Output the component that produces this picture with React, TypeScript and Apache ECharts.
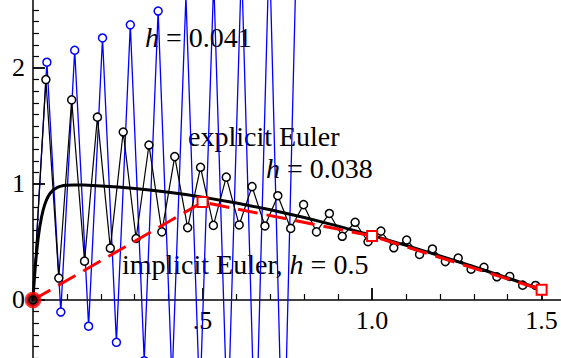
import React, { useEffect, useRef } from 'react';
import * as echarts from 'echarts';

// explicit Euler, h = 0.041 (blue)
const blueT = [0, 0.041, 0.082, 0.123, 0.164, 0.205, 0.246, 0.287, 0.328, 0.369, 0.41, 0.451, 0.492, 0.533, 0.574, 0.615, 0.656, 0.697, 0.738, 0.779];
const blueY = [0, 2.05, -0.104, 2.153, -0.226, 2.259, -0.365, 2.372, -0.524, 2.491, -0.704, 2.619, -0.905, 2.757, -1.13, 2.907, -1.379, 3.072, -1.654, 3.253];

// explicit Euler, h = 0.038 (black)
const blackT = [0, 0.038, 0.076, 0.114, 0.152, 0.19, 0.228, 0.266, 0.304, 0.342, 0.38, 0.418, 0.456, 0.494, 0.532, 0.57, 0.608, 0.646, 0.684, 0.722, 0.76, 0.798, 0.836, 0.874, 0.912, 0.95, 0.988, 1.026, 1.064, 1.102, 1.14, 1.178, 1.216, 1.254, 1.292, 1.33, 1.368, 1.406, 1.444, 1.482];
const blackY = [0, 1.9, 0.189, 1.725, 0.335, 1.576, 0.447, 1.448, 0.53, 1.336, 0.587, 1.236, 0.624, 1.144, 0.643, 1.059, 0.647, 0.977, 0.638, 0.899, 0.617, 0.822, 0.587, 0.746, 0.549, 0.67, 0.502, 0.594, 0.45, 0.517, 0.393, 0.44, 0.331, 0.361, 0.265, 0.282, 0.2, 0.203, 0.128, 0.125];

// smooth solution (thick black)
const exactT = [0, 0.0025, 0.005, 0.0075, 0.01, 0.015, 0.02, 0.025, 0.03, 0.035, 0.04, 0.045, 0.05, 0.06, 0.07, 0.08, 0.09, 0.1, 0.12, 0.15, 0.2, 0.25, 0.3, 0.35, 0.4, 0.45, 0.5, 0.6, 0.7, 0.8, 0.9, 1.0, 1.1, 1.2, 1.3, 1.4, 1.5];
const exactY = [0, 0.1175, 0.2212, 0.3127, 0.3935, 0.5276, 0.6321, 0.7134, 0.7767, 0.826, 0.8643, 0.8941, 0.9173, 0.9492, 0.9684, 0.9797, 0.9863, 0.9899, 0.9923, 0.9908, 0.9837, 0.9735, 0.9609, 0.9459, 0.9285, 0.9088, 0.8868, 0.8363, 0.7774, 0.7107, 0.6371, 0.5569, 0.4712, 0.3808, 0.2867, 0.1896, 0.0906];

// implicit Euler, h = 0.5 (red)
const implicitT = [0, 0.5, 1.0, 1.5];
const implicitY = [0, 0.844, 0.552, 0.089];

// initial value
const startPoint = [[0, 0]];

// tick labels
const xTickLabels: Record<string, string> = { '0.5': '.5', '1': '1.0', '1.5': '1.5' };
const yTickLabels: Record<string, string> = { '0': '0', '1': '1', '2': '2' };

// axis ranges
const X_MIN = 0;
const X_MAX = 1.566;
const Y_MIN = -0.526;
const Y_MAX = 2.612;

const FONT = '"Liberation Serif", "Times New Roman", serif';
const W = 561;
const H = 358;

function labelFor(map: Record<string, string>, v: number): string {
  const key = String(Math.round(v * 1000) / 1000);
  return map[key] ?? '';
}

export default function App() {
  const ref = useRef<HTMLDivElement>(null);
  useEffect(() => {
    if (!ref.current) return;
    const chart = echarts.init(ref.current, null, { renderer: 'svg' });
    const zip = (a: number[], b: number[]) => a.map((v, i) => [v, b[i]]);
    const axisCommon = {
      type: 'value' as const,
      splitLine: { show: false },
      axisLine: { onZero: true, lineStyle: { color: '#000', width: 1.5 } },
      axisTick: { inside: true, length: 12, lineStyle: { color: '#000', width: 1.8 } },
    };
    const labelFont = '28px "Liberation Serif", serif';
    const italicFont = 'italic 28px "Liberation Serif", serif';
    const textStyle = {
      fill: '#000',
      font: labelFont,
      fontFamily: FONT,
      fontSize: 28,
      align: 'left',
      verticalAlign: 'middle',
    };
    const rich = {
      i: { font: italicFont, fontStyle: 'italic', fontFamily: FONT, fontSize: 28, fill: '#000' },
      r: { font: labelFont, fontFamily: FONT, fontSize: 28, fill: '#000' },
    };
    // main grid extends 3px past the page on three sides; second grid (labels only)
    // ends where y = 0 lies so that the x tick labels sit under the zero line
    const gridTop = -3;
    const gridBottom = -3;
    const gridH = H - gridTop - gridBottom;
    const zeroFromTop = gridTop + (gridH * Y_MAX) / (Y_MAX - Y_MIN);
    chart.setOption({
      animation: false,
      backgroundColor: '#ffffff',
      textStyle: { fontFamily: FONT },
      grid: [
        { left: 33, right: -3, top: gridTop, bottom: gridBottom, containLabel: false, outerBoundsMode: 'none' },
        { left: 33, right: -3, top: gridTop, bottom: H - zeroFromTop, containLabel: false, outerBoundsMode: 'none' },
      ],
      xAxis: [
        {
          ...axisCommon,
          gridIndex: 0,
          min: X_MIN,
          max: X_MAX,
          minInterval: 0.5,
          maxInterval: 0.5,
          minorTick: { show: true, splitNumber: 5, length: 6, lineStyle: { color: '#000', width: 1.2 } },
          axisLabel: { show: false },
        },
        {
          type: 'value',
          gridIndex: 1,
          min: X_MIN,
          max: X_MAX,
          minInterval: 0.5,
          maxInterval: 0.5,
          splitLine: { show: false },
          axisLine: { show: false, onZero: false },
          axisTick: { show: false },
          axisLabel: {
            formatter: (v: number) => labelFor(xTickLabels, v),
            fontFamily: FONT,
            fontSize: 26,
            color: '#000',
            margin: 8,
          },
        },
      ],
      yAxis: [
        {
          ...axisCommon,
          gridIndex: 0,
          min: Y_MIN,
          max: Y_MAX,
          minInterval: 1,
          maxInterval: 1,
          minorTick: { show: true, splitNumber: 10, length: 6, lineStyle: { color: '#000', width: 1.2 } },
          axisLabel: {
            formatter: (v: number) => labelFor(yTickLabels, v),
            fontFamily: FONT,
            fontSize: 26,
            color: '#000',
            margin: 8,
          },
        },
        {
          type: 'value',
          gridIndex: 1,
          min: 0,
          max: Y_MAX,
          show: false,
        },
      ],
      graphic: {
        elements: [
          { type: 'text', z: 0, x: 145, y: 37, style: { ...textStyle, text: '{i|h}{r| = 0.041}', rich } },
          { type: 'text', z: 0, x: 188, y: 136, style: { ...textStyle, text: '{r|explicit Euler}', rich } },
          { type: 'text', z: 0, x: 266, y: 168, style: { ...textStyle, text: '{i|h}{r| = 0.038}', rich } },
          { type: 'text', z: 0, x: 122, y: 264, style: { ...textStyle, text: '{r|implicit Euler, }{i|h}{r| = 0.5}', rich } },
        ],
      },
      series: [
        {
          type: 'line',
          data: zip(blueT, blueY),
          symbol: 'circle',
          symbolSize: 8,
          lineStyle: { color: '#0000ff', width: 1.3 },
          itemStyle: { color: '#ffffff', borderColor: '#0000ff', borderWidth: 1.5 },
          clip: true,
          silent: true,
          z: 2,
        },
        {
          type: 'line',
          data: zip(blackT, blackY),
          symbol: 'circle',
          symbolSize: 8,
          lineStyle: { color: '#000000', width: 1.2 },
          itemStyle: { color: '#ffffff', borderColor: '#000000', borderWidth: 1.5 },
          clip: true,
          silent: true,
          z: 3,
        },
        {
          type: 'line',
          data: zip(exactT, exactY),
          symbol: 'none',
          lineStyle: { color: '#000000', width: 3, cap: 'round', join: 'round' },
          clip: true,
          silent: true,
          z: 4,
        },
        {
          type: 'line',
          data: implicitT.map((t, i) => (i === 0 ? { value: [t, implicitY[i]], symbol: 'none' } : [t, implicitY[i]])),
          symbol: 'rect',
          symbolSize: 10,
          lineStyle: { color: '#ff0000', width: 3, type: [20, 9] },
          itemStyle: { color: '#ffffff', borderColor: '#ff0000', borderWidth: 2 },
          clip: true,
          silent: true,
          z: 5,
        },
        {
          type: 'scatter',
          data: startPoint,
          symbol: 'circle',
          symbolSize: 13,
          itemStyle: { color: '#000000', borderColor: '#ff0000', borderWidth: 3.5 },
          silent: true,
          z: 6,
        },
      ],
    });
    return () => chart.dispose();
  }, []);
  return (
    <div
      ref={ref}
      style={{ position: 'fixed', left: 0, top: 0, width: W, height: H, background: '#fff' }}
    />
  );
}
